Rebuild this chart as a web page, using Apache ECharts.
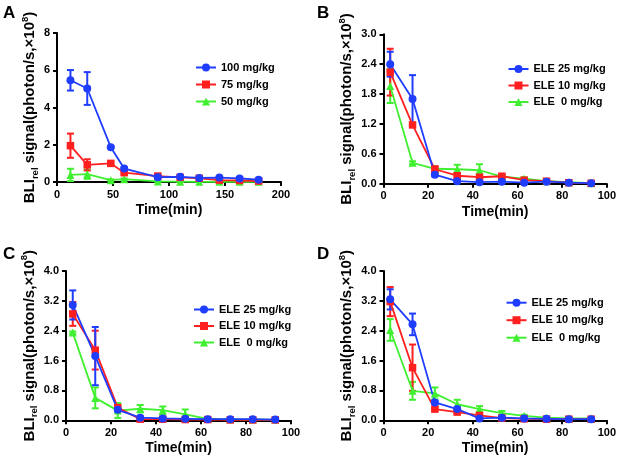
<!DOCTYPE html>
<html><head><meta charset="utf-8">
<script src="https://cdn.jsdelivr.net/npm/echarts@6/dist/echarts.min.js"></script>
<style>html,body{margin:0;padding:0;background:#fff}#c{width:619px;height:461px}</style>
</head><body><div id="c"></div>
<script>
// ---- data ----
const tA = [12, 27, 48, 60, 90, 110, 127, 145, 163, 180];
const A100 = [5.46, 5.02, 1.87, 0.72, 0.26, 0.28, 0.22, 0.24, 0.19, 0.12];
const A100err = [0.55, 0.88, 0.06, 0.08, 0.05, 0.05, 0.05, 0.05, 0.05, 0.05];
const A75 = [1.95, 0.92, 1.0, 0.5, 0.32, 0.25, 0.2, 0.1, 0.08, 0.05];
const A75err = [0.65, 0.3, 0.08, 0.06, 0.06, 0.05, 0.05, 0.04, 0.04, 0.03];
const A50 = [0.38, 0.42, 0.1, 0.15, 0.03, 0.02, 0.01, 0.01, 0.01, 0.01];
const A50err = [0.33, 0.25, 0.04, 0.04, 0.02, 0.02, 0.01, 0.01, 0.01, 0.01];

const tB = [3, 13, 23, 33, 43, 53, 63, 73, 83, 93];
const B25 = [2.40, 1.70, 0.18, 0.05, 0.03, 0.04, 0.02, 0.04, 0.02, 0.01];
const B25err = [0.25, 0.48, 0.03, 0.02, 0.02, 0.02, 0.01, 0.01, 0.01, 0.01];
const B10 = [2.24, 1.18, 0.29, 0.16, 0.13, 0.15, 0.07, 0.05, 0.02, 0.01];
const B10err = [0.47, 0.03, 0.06, 0.05, 0.04, 0.03, 0.02, 0.02, 0.01, 0.01];
const B0 = [1.96, 0.42, 0.30, 0.29, 0.27, 0.14, 0.10, 0.05, 0.03, 0.01];
const B0err = [0.34, 0.03, 0.04, 0.09, 0.12, 0.03, 0.03, 0.02, 0.01, 0.01];

const tC = [3, 13, 23, 33, 43, 53, 63, 73, 83, 93];
const C25 = [3.09, 1.72, 0.28, 0.07, 0.05, 0.04, 0.03, 0.03, 0.03, 0.02];
const C25err = [0.39, 0.78, 0.04, 0.03, 0.02, 0.02, 0.01, 0.01, 0.01, 0.01];
const C10 = [2.85, 1.88, 0.34, 0.03, 0.03, 0.02, 0.02, 0.01, 0.01, 0.01];
const C10err = [0.32, 0.52, 0.05, 0.02, 0.02, 0.01, 0.01, 0.01, 0.01, 0.01];
const C0 = [2.35, 0.60, 0.26, 0.31, 0.27, 0.16, 0.04, 0.03, 0.02, 0.02];
const C0err = [0.03, 0.28, 0.20, 0.10, 0.10, 0.13, 0.02, 0.01, 0.01, 0.01];

const tD = [3, 13, 23, 33, 43, 53, 63, 73, 83, 93];
const D25 = [3.24, 2.57, 0.48, 0.30, 0.05, 0.07, 0.05, 0.04, 0.03, 0.03];
const D25err = [0.27, 0.29, 0.05, 0.04, 0.02, 0.02, 0.02, 0.01, 0.01, 0.01];
const D10 = [3.18, 1.41, 0.30, 0.22, 0.13, 0.06, 0.04, 0.03, 0.03, 0.03];
const D10err = [0.39, 0.62, 0.04, 0.04, 0.03, 0.02, 0.01, 0.01, 0.01, 0.01];
const D0 = [2.42, 0.79, 0.72, 0.43, 0.30, 0.19, 0.12, 0.07, 0.05, 0.05];
const D0err = [0.29, 0.24, 0.16, 0.12, 0.08, 0.06, 0.03, 0.02, 0.02, 0.02];

const namesA = ['100 mg/kg', '75 mg/kg', '50 mg/kg'];
const namesE = ['ELE 25 mg/kg', 'ELE 10 mg/kg', 'ELE  0 mg/kg'];
const panelLetters = ['A', 'B', 'C', 'D'];

// ---- styles ----
const BLUE = '#1f3dff', RED = '#ff1f1f', GREEN = '#40f030';
const FONT = '"Liberation Sans", Arial, Helvetica, sans-serif';
const grids = [
  {left: 57, top: 33, width: 224, height: 149},
  {left: 383.5, top: 34.3, width: 225, height: 149.4},
  {left: 66, top: 271, width: 225, height: 149.3},
  {left: 383.5, top: 271, width: 224.4, height: 149.3}
];
const axisCfg = [
  {xmax: 200, xint: 50, ymax: 8, yint: 2, dec: 0, gap: 12},
  {xmax: 100, xint: 20, ymax: 3, yint: 0.6, dec: 1, gap: 21.5},
  {xmax: 100, xint: 20, ymax: 4, yint: 0.8, dec: 1, gap: 21},
  {xmax: 100, xint: 20, ymax: 4, yint: 0.8, dec: 1, gap: 21.5}
];
const legendPos = [
  {left: 195, top: 61.5, gap: 5},
  {left: 507.5, top: 63, gap: 4.5},
  {left: 193, top: 303.5, gap: 4.5},
  {left: 505.5, top: 296.7, gap: 5.5}
];
const lineAxis = {show: true, lineStyle: {color: '#000', width: 2}};
const tick = {show: true, inside: false, length: 4, lineStyle: {color: '#000', width: 2}};
const lab = {color: '#000', fontSize: 11, fontWeight: 'bold', fontFamily: FONT};

const xAxes = [], yAxes = [], series = [], legends = [];
axisCfg.forEach((c, i) => {
  xAxes.push({
    type: 'value', gridIndex: i, min: 0, max: c.xmax, interval: c.xint,
    axisLine: lineAxis, axisTick: tick, splitLine: {show: false},
    axisLabel: Object.assign({margin: 7}, lab),
    name: 'Time(min)', nameLocation: 'middle', nameGap: 21,
    nameTextStyle: {color: '#000', fontSize: 14, fontWeight: 'bold', fontFamily: FONT}
  });
  yAxes.push({
    type: 'value', gridIndex: i, min: 0, max: c.ymax, interval: c.yint,
    axisLine: lineAxis, axisTick: tick, splitLine: {show: false},
    axisLabel: Object.assign({margin: 7, formatter: v => v.toFixed(c.dec)}, lab),
    name: '{b|BLI}{s|rel}{b| signal(photon/s,×10}{p|8}{b|)}',
    nameLocation: 'middle', nameRotate: 90, nameGap: c.gap,
    nameTextStyle: {
      color: '#000', fontFamily: FONT,
      rich: {
        b: {fontSize: 15, fontWeight: 'bold', fontFamily: FONT, color: '#000', lineHeight: 20},
        s: {fontSize: 9.5, fontWeight: 'bold', fontFamily: FONT, color: '#000', lineHeight: 9, verticalAlign: 'bottom'},
        p: {fontSize: 9.5, fontWeight: 'bold', fontFamily: FONT, color: '#000', lineHeight: 9, verticalAlign: 'top'}
      }
    }
  });
});

function errRender(color) {
  return function (params, api) {
    const x = api.value(0), y = api.value(1), e = api.value(2);
    const p0 = api.coord([x, y + e]), p1 = api.coord([x, Math.max(0, y - e)]);
    const w = 3.5;
    const st = {stroke: color, lineWidth: 2};
    return {type: 'group', children: [
      {type: 'line', shape: {x1: p0[0], y1: p0[1], x2: p1[0], y2: p1[1]}, style: st},
      {type: 'line', shape: {x1: p0[0] - w, y1: p0[1], x2: p0[0] + w, y2: p0[1]}, style: st},
      {type: 'line', shape: {x1: p1[0] - w, y1: p1[1], x2: p1[0] + w, y2: p1[1]}, style: st}
    ]};
  };
}

function addPanel(i, t, groups, names) {
  const colors = [BLUE, RED, GREEN];
  const symbols = ['circle', 'rect', 'triangle'];
  const sizes = [8, 7.5, 8];
  for (let k = 2; k >= 0; k--) {
    const [vals, errs] = groups[k];
    series.push({
      type: 'custom', name: 'err' + i + k, xAxisIndex: i, yAxisIndex: i,
      renderItem: errRender(colors[k]), silent: true,
      data: t.map((x, j) => [x, vals[j], errs[j]]), z: 2
    });
    series.push({
      type: 'line', name: names[k], xAxisIndex: i, yAxisIndex: i,
      data: t.map((x, j) => [x, vals[j]]),
      symbol: symbols[k], symbolSize: sizes[k], showSymbol: true,
      itemStyle: {color: colors[k]}, lineStyle: {color: colors[k], width: 1.8}, z: 3
    });
  }
  const lp = legendPos[i];
  legends.push({
    data: names.slice(), orient: 'vertical', left: lp.left, top: lp.top,
    itemWidth: 20, itemHeight: 10, itemGap: lp.gap, padding: 0, selectedMode: false,
    textStyle: {fontSize: 11, fontWeight: 'bold', fontFamily: FONT, color: '#000', lineHeight: 12}
  });
}

addPanel(0, tA, [[A100, A100err], [A75, A75err], [A50, A50err]], namesA);
addPanel(1, tB, [[B25, B25err], [B10, B10err], [B0, B0err]], namesE);
addPanel(2, tC, [[C25, C25err], [C10, C10err], [C0, C0err]], namesE);
addPanel(3, tD, [[D25, D25err], [D10, D10err], [D0, D0err]], namesE);

const letterPos = [[3, 5], [317, 5], [3, 246], [317, 246]];
const graphics = panelLetters.map((L, i) => ({
  type: 'text', left: letterPos[i][0], top: letterPos[i][1],
  style: {text: L, fontSize: 17, fontWeight: 'bold', fontFamily: FONT, fill: '#000'}
}));

const chart = echarts.init(document.getElementById('c'), null, {renderer: 'canvas'});
chart.setOption({
  animation: false,
  backgroundColor: '#fff',
  grid: grids.map(g => Object.assign({containLabel: false}, g)),
  xAxis: xAxes, yAxis: yAxes, series: series, legend: legends, graphic: graphics
});
</script></body></html>
